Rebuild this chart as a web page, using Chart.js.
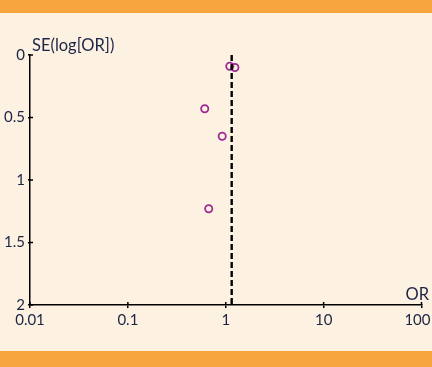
<!DOCTYPE html>
<html lang="en">
<head>
<meta charset="UTF-8" />
<title>Funnel plot</title>
<script src="https://cdn.jsdelivr.net/npm/chart.js"></script>
<style>
  html, body { margin: 0; padding: 0; }
  body { width: 432px; height: 367px; background: #fdf1e2; position: relative; overflow: hidden; }
  .band { position: absolute; left: 0; width: 432px; background: #f7a63f; }
  #top { top: 0; height: 13px; }
  #bottom { top: 351px; height: 16px; }
  #wrap { position: absolute; left: 0; top: 13px; width: 432px; height: 338px; }
</style>
</head>
<body>
<div class="band" id="top"></div>
<div id="wrap"><canvas id="chart"></canvas></div>
<div class="band" id="bottom"></div>
<script>
// study odds ratios and their standard errors
const orValues = [1.10, 1.24, 0.61, 0.92, 0.67];
const seValues = [0.09, 0.10, 0.43, 0.65, 1.23];
const pooledOR = 1.15;
const xTicks = [0.01, 0.1, 1, 10, 100];
const xTickLabels = ['0.01', '0.1', '1', '10', '100'];
const yTicks = [0, 0.5, 1, 1.5, 2];
const yTickLabels = ['0', '0.5', '1', '1.5', '2'];

const textColor = '#1d2545';
const font = { family: 'Lato', size: 15 };

const studies = orValues.map((v, i) => ({ x: v, y: seValues[i] }));
const pooledLine = [{ x: pooledOR, y: yTicks[0] }, { x: pooledOR, y: yTicks[yTicks.length - 1] }];
const lastX = xTicks.length - 1;

// inner half of the crossing tick marks, the axis titles, and the last x label
// (kept inside the page, right-aligned past its tick as in the original)
const axisExtras = {
  id: 'axisExtras',
  afterDraw(chart) {
    const { ctx, chartArea, scales: { x, y } } = chart;
    ctx.save();
    ctx.strokeStyle = '#000';
    ctx.lineWidth = 1.5;
    ctx.beginPath();
    xTicks.forEach(v => {
      const px = x.getPixelForValue(v);
      ctx.moveTo(px, chartArea.bottom);
      ctx.lineTo(px, chartArea.bottom - 3);
    });
    yTicks.forEach(v => {
      const py = y.getPixelForValue(v);
      ctx.moveTo(chartArea.left, py);
      ctx.lineTo(chartArea.left + 3, py);
    });
    ctx.stroke();
    ctx.fillStyle = textColor;
    ctx.font = '15px Lato';
    ctx.textAlign = 'right';
    ctx.textBaseline = 'middle';
    ctx.fillText(xTickLabels[lastX], x.getPixelForValue(xTicks[lastX]) + 9, chartArea.bottom + 15);
    ctx.textBaseline = 'alphabetic';
    ctx.font = '16.5px Lato';
    ctx.textAlign = 'left';
    ctx.fillText('SE(log[OR])', chartArea.left + 2, chartArea.top - 4);
    ctx.textAlign = 'right';
    ctx.fillText('OR', chart.width - 3, chartArea.bottom - 5);
    ctx.restore();
  }
};

new Chart(document.getElementById('chart'), {
  type: 'scatter',
  data: {
    datasets: [
      {
        data: pooledLine,
        showLine: true,
        borderColor: '#000',
        borderWidth: 2.4,
        borderDash: [6, 3],
        pointRadius: 0
      },
      {
        data: studies,
        pointRadius: 3.6,
        pointBorderWidth: 1.8,
        borderColor: '#9c2a90',
        backgroundColor: 'rgba(0,0,0,0)'
      }
    ]
  },
  options: {
    responsive: true,
    maintainAspectRatio: false,
    animation: false,
    layout: { padding: { top: 42, right: 10.5, bottom: 16, left: 0 } },
    plugins: { legend: { display: false }, tooltip: { enabled: false } },
    scales: {
      x: {
        type: 'logarithmic',
        min: 0.01,
        max: 100,
        afterBuildTicks: s => { s.ticks = xTicks.map(v => ({ value: v })); },
        afterFit: s => { s.height = 30; s.paddingLeft = 0; s.paddingRight = 0; },
        grid: { drawOnChartArea: false, drawTicks: true, tickLength: 3, color: '#000', lineWidth: 1.5 },
        border: { display: true, color: '#000', width: 1.5 },
        ticks: {
          color: textColor,
          font,
          padding: 3,
          maxRotation: 0,
          autoSkip: false,
          callback: v => {
            const i = xTicks.indexOf(v);
            return i === lastX ? '' : xTickLabels[i];
          }
        }
      },
      y: {
        type: 'linear',
        reverse: true,
        min: 0,
        max: 2,
        afterBuildTicks: s => { s.ticks = yTicks.map(v => ({ value: v })); },
        afterFit: s => { s.width = 30; s.paddingTop = 0; s.paddingBottom = 0; },
        grid: { drawOnChartArea: false, drawTicks: true, tickLength: 2, color: '#000', lineWidth: 1.5 },
        border: { display: true, color: '#000', width: 1.5 },
        ticks: {
          color: textColor,
          font,
          padding: 3,
          callback: v => yTickLabels[yTicks.indexOf(v)]
        }
      }
    }
  },
  plugins: [axisExtras]
});
</script>
</body>
</html>
